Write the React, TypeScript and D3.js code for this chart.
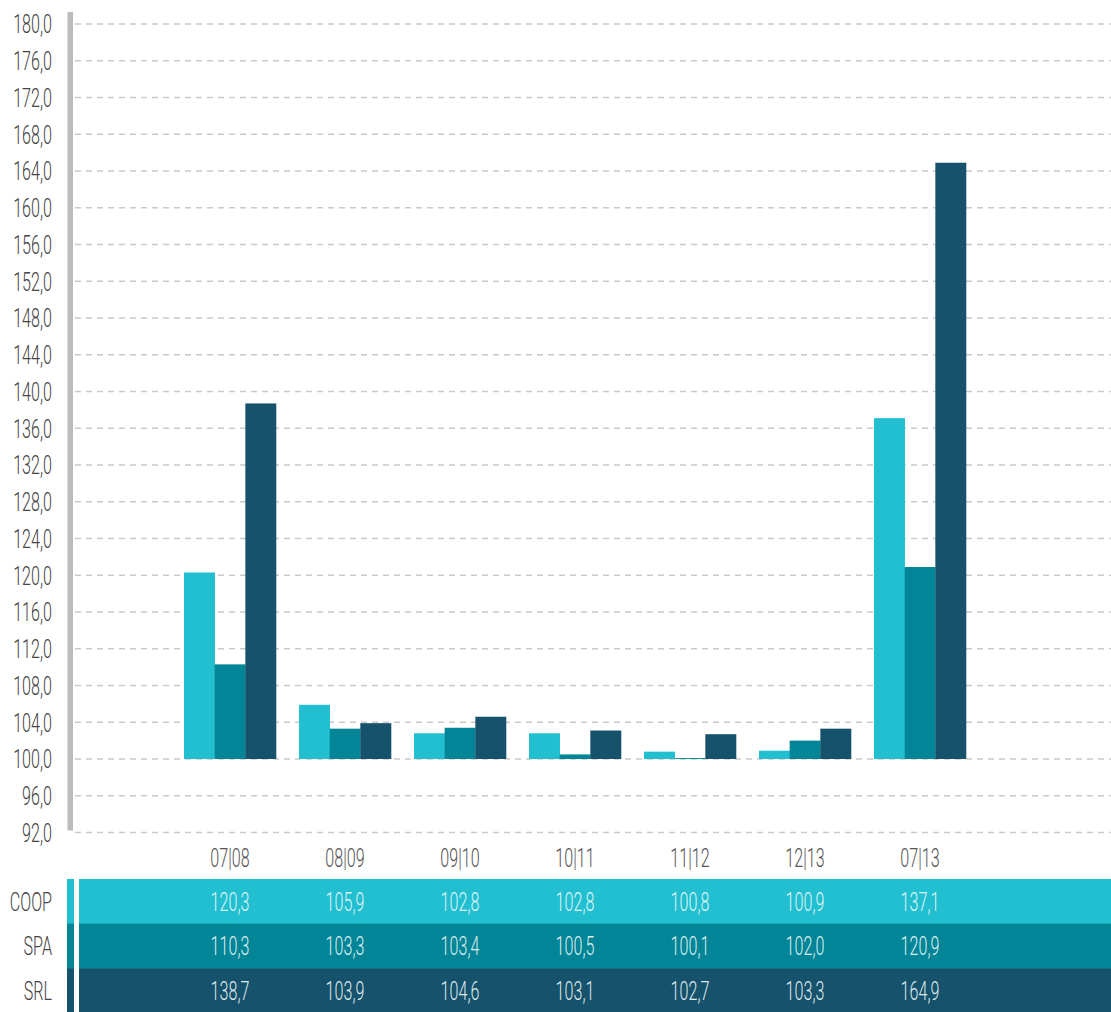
import { useEffect, useRef } from 'react';
import * as d3 from 'd3';

const periods = ['07|08', '08|09', '09|10', '10|11', '11|12', '12|13', '07|13'];
const seriesNames = ['COOP', 'SPA', 'SRL'];
const coop = [120.3, 105.9, 102.8, 102.8, 100.8, 100.9, 137.1];
const spa = [110.3, 103.3, 103.4, 100.5, 100.1, 102.0, 120.9];
const srl = [138.7, 103.9, 104.6, 103.1, 102.7, 103.3, 164.9];
const yTicks = d3.range(92, 181, 4);

const colors = ['#21bfcf', '#028596', '#16526b'];
const font = 'Roboto, "Noto Sans", sans-serif';
const squeeze = 0.62;

export default function App() {
  const ref = useRef<SVGSVGElement>(null);

  useEffect(() => {
    const svg = d3.select(ref.current);
    svg.selectAll('*').remove();
    const values = [coop, spa, srl];
    const fmt = (v: number) => d3.format('.1f')(v).replace('.', ',');

    const y = d3.scaleLinear().domain([100, 180]).range([759, 24]);
    const x = d3.scaleBand().domain(periods).range([172.5, 977.5]);
    const xi = d3
      .scaleBand()
      .domain(seriesNames)
      .range([(115 - 92) / 2, (115 + 92) / 2]);

    const label = (sel, fill, anchor) =>
      sel
        .attr('text-anchor', anchor)
        .attr('dy', '0.36em')
        .style('font-family', font)
        .style('font-weight', 300)
        .style('font-size', '26px')
        .attr('fill', fill);

    // grid
    svg
      .append('g')
      .selectAll('line')
      .data(yTicks)
      .enter()
      .append('line')
      .attr('x1', 75)
      .attr('x2', 1111)
      .attr('y1', d => y(d))
      .attr('y2', d => y(d))
      .attr('stroke', '#c9c9c9')
      .attr('stroke-width', 1.3)
      .attr('stroke-dasharray', '6,5');

    // left axis bar
    svg
      .append('rect')
      .attr('x', 67.5)
      .attr('y', 12)
      .attr('width', 5.5)
      .attr('height', y(92) - 14)
      .attr('fill', '#bcbcbc');

    svg
      .append('g')
      .selectAll('text')
      .data(yTicks)
      .enter()
      .append('text')
      .attr('transform', d => `translate(52,${y(d)}) scale(${squeeze},1)`)
      .call(label, '#444', 'end')
      .text(d => fmt(d));

    // bars
    seriesNames.forEach((s, si) => {
      svg
        .append('g')
        .selectAll('rect')
        .data(values[si])
        .enter()
        .append('rect')
        .attr('x', (d, i) => x(periods[i]) + xi(s))
        .attr('width', xi.bandwidth() + 0.3)
        .attr('y', d => y(d))
        .attr('height', d => y(100) - y(d))
        .attr('fill', colors[si]);
    });

    // category labels
    svg
      .append('g')
      .selectAll('text')
      .data(periods)
      .enter()
      .append('text')
      .attr(
        'transform',
        d => `translate(${x(d) + x.bandwidth() / 2},858) scale(${squeeze},1)`
      )
      .call(label, '#555', 'middle')
      .text(d => d);

    // table rows
    const rowTop = 879;
    const rowH = 44.7;
    seriesNames.forEach((s, si) => {
      const ry = rowTop + si * rowH;
      svg
        .append('rect')
        .attr('x', 67)
        .attr('y', ry)
        .attr('width', 7)
        .attr('height', rowH + 0.5)
        .attr('fill', colors[si]);
      svg
        .append('rect')
        .attr('x', 79)
        .attr('y', ry)
        .attr('width', 1111 - 79)
        .attr('height', rowH + 0.5)
        .attr('fill', colors[si]);
      svg
        .append('text')
        .attr('transform', `translate(52,${ry + rowH / 2}) scale(${squeeze},1)`)
        .call(label, '#444', 'end')
        .text(s);
      svg
        .append('g')
        .selectAll('text')
        .data(values[si])
        .enter()
        .append('text')
        .attr(
          'transform',
          (d, i) =>
            `translate(${x(periods[i]) + x.bandwidth() / 2},${ry + rowH / 2}) scale(${squeeze},1)`
        )
        .call(label, 'rgba(238,250,252,0.92)', 'middle')
        .text(d => fmt(d));
    });
  }, []);

  return (
    <svg
      ref={ref}
      width={1111}
      height={1012}
      style={{ position: 'absolute', left: 0, top: 0, background: '#fff' }}
    />
  );
}
